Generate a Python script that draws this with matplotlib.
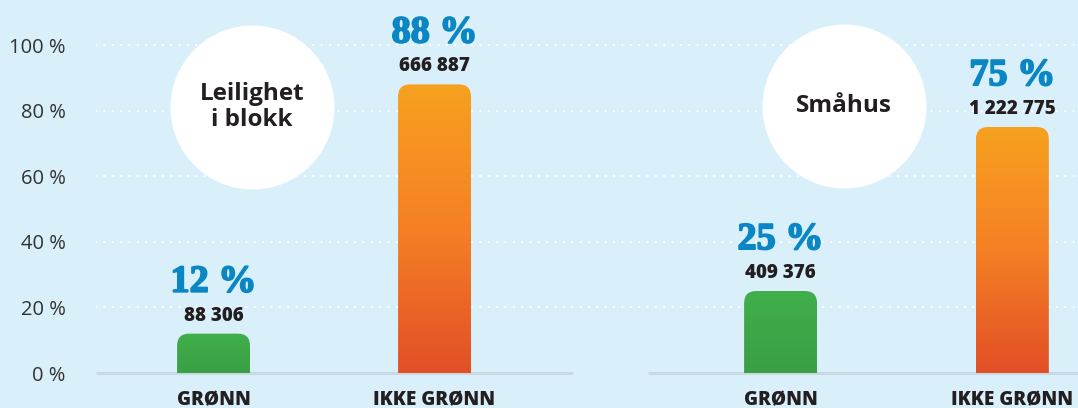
import matplotlib
matplotlib.use("Agg")
import matplotlib.pyplot as plt
import matplotlib.patheffects as pe
import numpy as np
from matplotlib.patches import FancyBboxPatch
from matplotlib.colors import LinearSegmentedColormap

plt.rcParams['font.family'] = ['Open Sans', 'DejaVu Sans']

# data
groups = ["Leilighet\ni blokk", "Småhus"]
categories = ["GRØNN", "IKKE GRØNN", "GRØNN", "IKKE GRØNN"]
shares = [12, 88, 25, 75]
counts = [88306, 666887, 409376, 1222775]
yticks = [0, 20, 40, 60, 80, 100]

# layout (x in bar units, y in percent)
xpos = [0, 1, 2.566, 3.615]
circle_pos = [(0.174, 81.1), (2.853, 81.4)]
bar_w = 0.33
xmin, xmax = -0.532, 3.912
ymin, ymax = -10.67, 113.72
aspect = 221 / 3.28   # pixels per x unit / pixels per y unit

bg = "#d9effa"
dark = "#231f20"
blue = "#0986c3"
green = LinearSegmentedColormap.from_list("g", ["#3a9f45", "#41af4c"])
orange = LinearSegmentedColormap.from_list("o", ["#e24f27", "#f58025", "#f7a11f"])
cmaps = [green, orange, green, orange]

fig = plt.figure(figsize=(10.78, 4.08), dpi=100, facecolor=bg)
ax = fig.add_axes([96 / 1078, 0, 1 - 96 / 1078, 1])
ax.set_facecolor(bg)

# dotted grid
grid = ax.hlines(yticks[1:], xmin, xmax, colors="white", linewidth=1.6,
                 linestyles=(0, (0.01, 3.75)), zorder=1)
grid.set_capstyle("round")

# baselines for the two panels
ax.plot([xmin, 1.627], [0, 0], color="#c8d9e1", lw=2.2, solid_capstyle="butt", zorder=2)
ax.plot([1.968, xmax], [0, 0], color="#c8d9e1", lw=2.2, solid_capstyle="butt", zorder=2)

# white circles with group names
ax.scatter([p[0] for p in circle_pos], [p[1] for p in circle_pos],
           s=(164 * 0.72) ** 2, color="white", linewidths=0, zorder=2)
for (cx, cy), name in zip(circle_pos, groups):
    ax.text(cx, cy, name, ha="center", va="center", fontsize=17.5,
            fontweight="bold", color=dark, linespacing=1.15, zorder=3)

# bars with gradient fill and rounded tops
grad = np.linspace(0, 1, 256).reshape(-1, 1)
for x, v, cm in zip(xpos, shares, cmaps):
    clip = FancyBboxPatch((x - bar_w / 2, -10), bar_w, v + 10,
                          boxstyle="round,pad=0,rounding_size=0.055",
                          mutation_aspect=aspect, facecolor="none",
                          edgecolor="none", transform=ax.transData)
    ax.add_patch(clip)
    im = ax.imshow(grad, extent=(x - bar_w / 2, x + bar_w / 2, 0, v),
                   origin="lower", cmap=cm, aspect="auto", zorder=3)
    im.set_clip_path(clip)

# value labels
thick = [pe.withStroke(linewidth=1.3, foreground=blue)]
for x, v, c in zip(xpos, shares, counts):
    ax.annotate(f"{c:,}".replace(",", " "), (x, v), xytext=(0, 13),
                textcoords="offset points", ha="center", va="center",
                fontsize=13.5, fontweight=800, color=dark)
    ax.annotate(f"{v} %", (x, v), xytext=(0, 37), textcoords="offset points",
                ha="center", va="center", fontsize=27.5, fontweight="bold",
                color=blue, family="Liberation Serif", path_effects=thick)

# category labels
for x, cat in zip(xpos, categories):
    ax.annotate(cat, (x, 0), xytext=(0, -23), textcoords="offset points",
                ha="center", va="baseline", fontsize=13.7, fontweight=800,
                color=dark, annotation_clip=False)

ax.set_xlim(xmin, xmax)
ax.set_ylim(ymin, ymax)
ax.set_xticks([])
ax.set_yticks(yticks, labels=[f"{t} %" for t in yticks])
ax.tick_params(axis="y", length=0, pad=22, labelsize=14.5, labelcolor="#333333")
for s in ax.spines.values():
    s.set_visible(False)

fig.savefig("out.png", dpi=100, facecolor=bg)
